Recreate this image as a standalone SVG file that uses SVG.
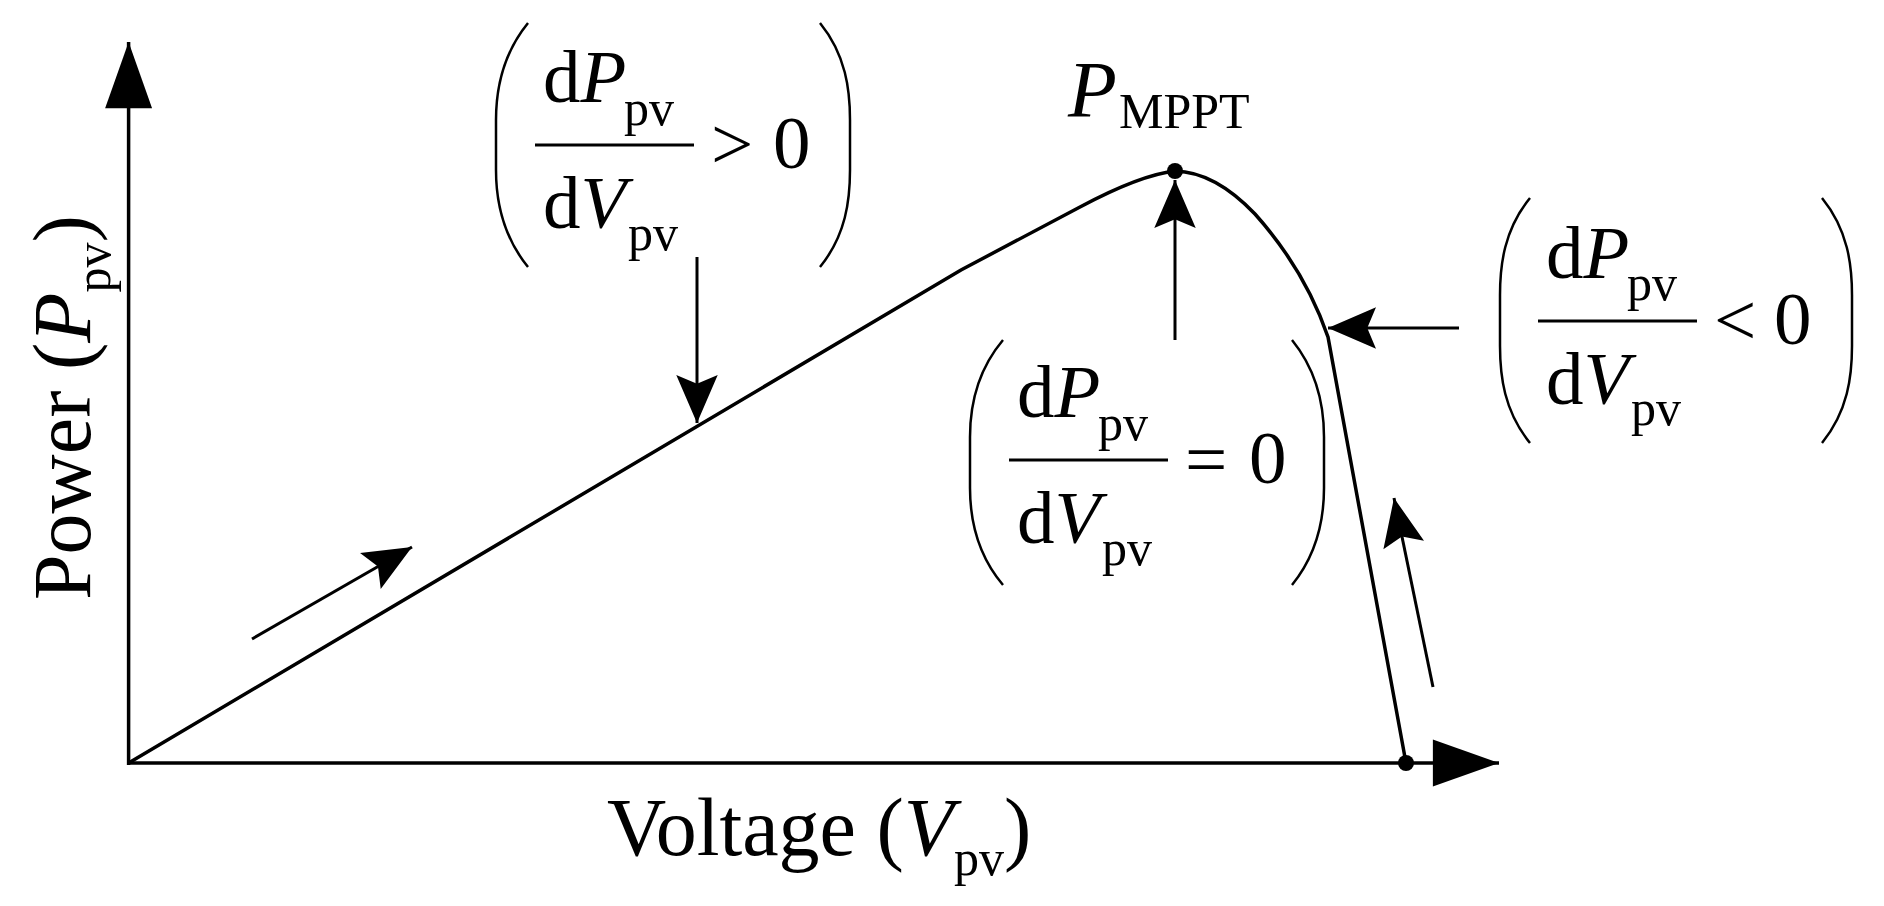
<svg xmlns="http://www.w3.org/2000/svg" width="1884" height="906" viewBox="0 0 1884 906">
<style>
text{font-family:"Liberation Serif","Times New Roman",serif;fill:#000}
.big{font-size:75px}.sub{font-size:50px}.it{font-style:italic}
.ln{stroke:#000;stroke-width:3.5;fill:none}
.pr{stroke:#000;stroke-width:2.5;fill:none}
.ar{stroke:#000;stroke-width:3;fill:none;marker-end:url(#ah)}
</style>
<defs>
<marker id="ah" markerUnits="userSpaceOnUse" markerWidth="60" markerHeight="60" viewBox="-50 -25 55 50" refX="0" refY="0" orient="auto"><path d="M0,0 L-44,-19 L-36,0 L-44,19 Z" fill="#000"/></marker>
<marker id="ax" markerUnits="userSpaceOnUse" markerWidth="80" markerHeight="80" viewBox="-70 -30 75 60" refX="0" refY="0" orient="auto"><path d="M0,0 L-62,-22 L-62,22 Z" fill="#000"/></marker>
</defs>
<g id="axes">
<line class="ln" x1="128.6" y1="765" x2="128.6" y2="42" style="marker-end:url(#ax)"/>
<line class="ln" x1="127" y1="763" x2="1499" y2="763" style="marker-end:url(#ax)"/>
</g>
<g id="curve">
<path class="ln" d="M128.6,763 L961,270 L1080,207 Q1140,175 1175,171 Q1215,172 1255,214 Q1305,270 1328,337 L1406,763"/>
<circle cx="1175" cy="171" r="8"/>
<circle cx="1406" cy="763" r="8"/>
</g>
<g id="connectors">
<line class="ar" x1="697" y1="257" x2="697" y2="423"/>
<line class="ar" x1="1175" y1="340" x2="1175" y2="180"/>
<line class="ar" x1="1459" y1="328" x2="1328" y2="328"/>
<line class="ar" x1="252" y1="639" x2="412" y2="547"/>
<line class="ar" x1="1433" y1="687" x2="1394" y2="498"/>
</g>
<g id="label-pmppt">
<text x="1068" y="117" class="it" style="font-size:80px">P</text>
<text x="1119" y="128" class="sub">MPPT</text>
</g>
<g id="box-positive">
<path class="pr" d="M528,23 C502,55 496,90 496,120 L496,170 C496,200 502,235 528,267"/>
<path class="pr" d="M820,23 C846,55 850,90 850,120 L850,170 C850,200 846,235 820,267"/>
<text x="543" y="102" class="big">d<tspan class="it">P</tspan></text>
<text x="624" y="125" class="sub">pv</text>
<line x1="535" y1="145" x2="694" y2="145" stroke="#000" stroke-width="3"/>
<text x="543" y="228" class="big">d<tspan class="it">V</tspan></text>
<text x="628" y="250" class="sub">pv</text>
<text x="711" y="169" class="big">&gt;</text>
<text x="773" y="168" class="big">0</text>
</g>
<g id="box-zero">
<path class="pr" d="M1003,340 C976,372 970,407 970,437 L970,488 C970,518 976,553 1003,585"/>
<path class="pr" d="M1292,340 C1318,372 1324,407 1324,437 L1324,488 C1324,518 1318,553 1292,585"/>
<text x="1017" y="417" class="big">d<tspan class="it">P</tspan></text>
<text x="1098" y="440" class="sub">pv</text>
<line x1="1009" y1="460" x2="1168" y2="460" stroke="#000" stroke-width="3"/>
<text x="1017" y="543" class="big">d<tspan class="it">V</tspan></text>
<text x="1102" y="565" class="sub">pv</text>
<text x="1185" y="484" class="big">=</text>
<text x="1249" y="483" class="big">0</text>
</g>
<g id="box-negative">
<path class="pr" d="M1530,198 C1504,230 1500,265 1500,295 L1500,346 C1500,376 1504,411 1530,443"/>
<path class="pr" d="M1822,198 C1848,230 1852,265 1852,295 L1852,346 C1852,376 1848,411 1822,443"/>
<text x="1546" y="278" class="big">d<tspan class="it">P</tspan></text>
<text x="1627" y="300" class="sub">pv</text>
<line x1="1538" y1="321" x2="1697" y2="321" stroke="#000" stroke-width="3"/>
<text x="1546" y="404" class="big">d<tspan class="it">V</tspan></text>
<text x="1631" y="425" class="sub">pv</text>
<text x="1714" y="345" class="big">&lt;</text>
<text x="1774" y="344" class="big">0</text>
</g>
<g id="label-y">
<text transform="translate(90,600) rotate(-90)" style="font-size:82px">Power (<tspan class="it">P</tspan><tspan style="font-size:50px" dy="20">pv</tspan><tspan dy="-20">)</tspan></text>
</g>
<g id="label-x">
<text x="607" y="855" style="font-size:82px">Voltage (<tspan class="it">V</tspan><tspan style="font-size:50px" dy="20">pv</tspan><tspan dy="-20">)</tspan></text>
</g>
</svg>
